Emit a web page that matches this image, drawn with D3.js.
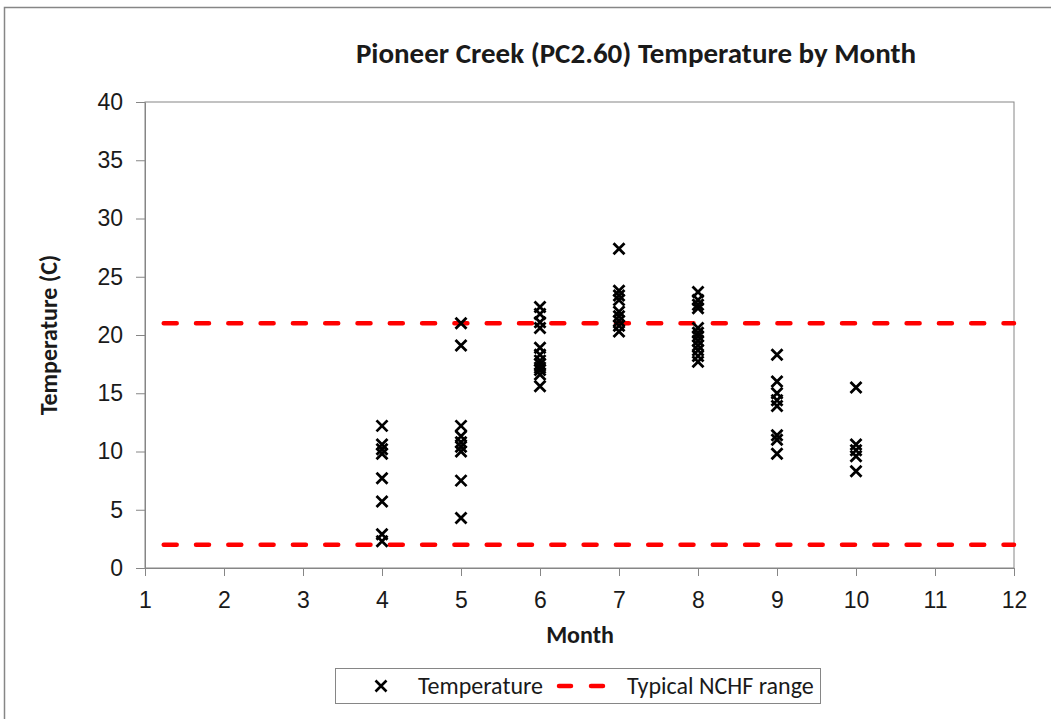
<!DOCTYPE html>
<html>
<head>
<meta charset="utf-8">
<script src="https://cdn.jsdelivr.net/npm/d3@7"></script>
<style>
  body { margin: 0; background: #fff; }
  svg { font-family: Carlito, "Liberation Sans", Arial, sans-serif; }
  text { fill: #1a1a1a; }
  .axis path, .axis line { stroke: #868686; }
  .axis text { font-size: 23px; fill: #1a1a1a; }
</style>
</head>
<body>
<svg width="1051" height="719"></svg>
<script>
var months = [4, 5, 6, 7, 8, 9, 10];
var temps = [
  [12.2, 10.6, 10.2, 9.8, 7.7, 5.7, 2.9, 2.3],
  [21.0, 19.1, 12.2, 11.3, 10.8, 10.4, 10.0, 7.5, 4.3],
  [22.4, 21.8, 21.1, 20.6, 18.9, 18.3, 17.8, 17.5, 17.2, 17.0, 16.6, 15.6],
  [27.4, 23.8, 23.4, 23.0, 22.0, 21.6, 21.2, 20.8, 20.3],
  [23.7, 23.0, 22.6, 22.3, 20.6, 20.2, 19.9, 19.5, 19.1, 18.7, 18.2, 17.7],
  [18.3, 16.0, 15.0, 14.4, 13.9, 11.4, 11.0, 9.8],
  [15.5, 10.6, 10.1, 9.6, 8.3]
];
var rangeLines = [21, 2];
var xTicks = d3.range(1, 13);
var yTicks = d3.range(0, 41, 5);

var svg = d3.select("svg"),
    margin = {top: 102, right: 37, bottom: 151, left: 145},
    width = +svg.attr("width") - margin.left - margin.right,
    height = +svg.attr("height") - margin.top - margin.bottom;

// chart frame
svg.append("rect")
    .attr("x", 4.5).attr("y", 7.5)
    .attr("width", 1060).attr("height", 730)
    .attr("fill", "#fff")
    .attr("stroke", "#868686")
    .attr("stroke-width", 1.5);

var x = d3.scaleLinear().domain([1, 12]).range([0, width]),
    y = d3.scaleLinear().domain([0, 40]).range([height, 0]);

var g = svg.append("g")
    .attr("transform", "translate(" + margin.left + "," + margin.top + ")");

g.append("rect")
    .attr("width", width).attr("height", height)
    .attr("fill", "none")
    .attr("stroke", "#868686");

g.append("g")
    .attr("class", "axis")
    .attr("transform", "translate(0," + height + ")")
    .call(d3.axisBottom(x).tickValues(xTicks).tickSize(8).tickSizeOuter(0).tickPadding(16));

g.append("g")
    .attr("class", "axis")
    .call(d3.axisLeft(y).tickValues(yTicks).tickSize(9).tickSizeOuter(0).tickPadding(13));

// typical range lines
g.selectAll(".range")
    .data(rangeLines)
    .enter().append("line")
    .attr("class", "range")
    .attr("x1", 0).attr("x2", width)
    .attr("y1", function(d) { return y(d); })
    .attr("y2", function(d) { return y(d); })
    .attr("stroke", "#ff0000")
    .attr("stroke-width", 4.5)
    .attr("stroke-linecap", "round")
    .attr("stroke-dasharray", "13,19.3")
    .attr("stroke-dashoffset", 13.6);

// points
var pts = [];
months.forEach(function(m, i) {
  temps[i].forEach(function(t) { pts.push({month: m, temp: t}); });
});

var cross = "M-5.5,-5.5L5.5,5.5M-5.5,5.5L5.5,-5.5";

g.selectAll(".pt")
    .data(pts)
    .enter().append("path")
    .attr("class", "pt")
    .attr("transform", function(d) { return "translate(" + x(d.month) + "," + y(d.temp) + ")"; })
    .attr("d", cross)
    .attr("stroke", "#000")
    .attr("stroke-width", 2.8);

// titles
svg.append("text")
    .attr("x", 636).attr("y", 63)
    .attr("text-anchor", "middle")
    .style("font-size", "29px").style("font-weight", "bold")
    .text("Pioneer Creek (PC2.60) Temperature by Month");

svg.append("text")
    .attr("x", 580).attr("y", 643)
    .attr("text-anchor", "middle")
    .style("font-size", "24px").style("font-weight", "bold")
    .text("Month");

svg.append("text")
    .attr("transform", "translate(57," + (margin.top + height / 2) + ") rotate(-90)")
    .attr("text-anchor", "middle")
    .style("font-size", "24px").style("font-weight", "bold")
    .text("Temperature (C)");

// legend
var legend = svg.append("g").attr("transform", "translate(335,668)");
legend.append("rect")
    .attr("x", 0.5).attr("y", 0.5).attr("width", 485).attr("height", 35)
    .attr("fill", "#fff").attr("stroke", "#868686");
legend.append("path")
    .attr("transform", "translate(46,18)")
    .attr("d", cross)
    .attr("stroke", "#000").attr("stroke-width", 2.6);
legend.append("text")
    .attr("x", 83).attr("y", 26)
    .style("font-size", "24px")
    .text("Temperature");
legend.append("line")
    .attr("x1", 224).attr("x2", 268).attr("y1", 18).attr("y2", 18)
    .attr("stroke", "#ff0000").attr("stroke-width", 4.5)
    .attr("stroke-linecap", "round")
    .attr("stroke-dasharray", "12,20");
legend.append("text")
    .attr("x", 292).attr("y", 26)
    .style("font-size", "24px")
    .text("Typical NCHF range");
</script>
</body>
</html>
